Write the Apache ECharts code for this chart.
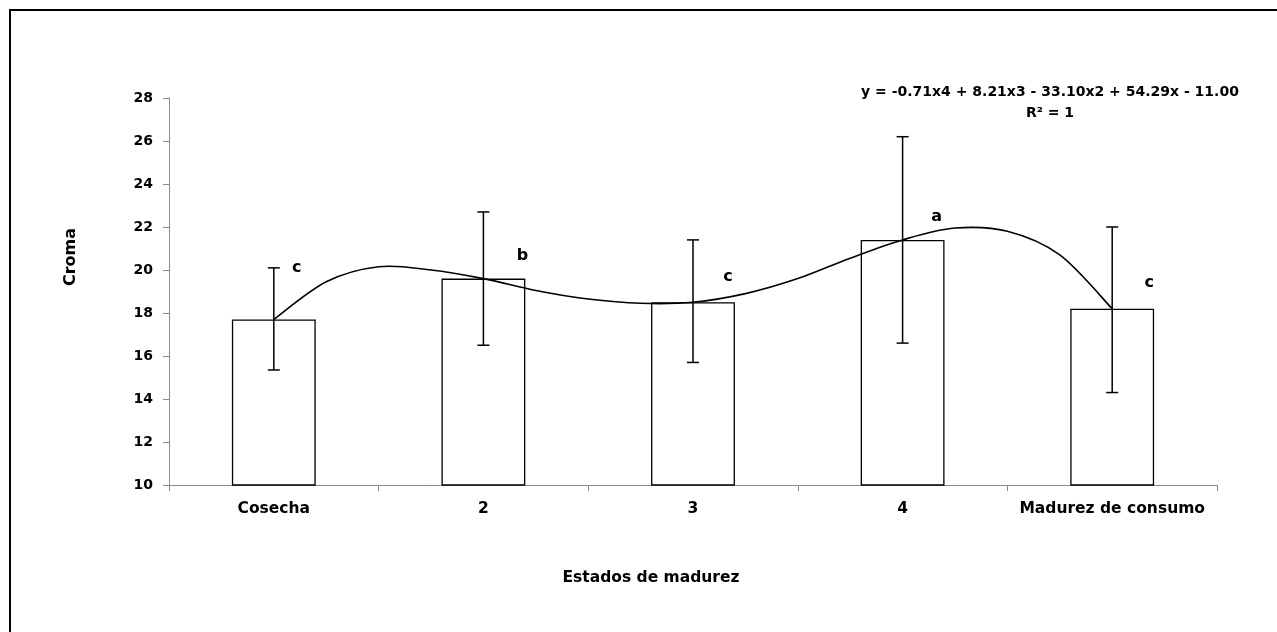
<!DOCTYPE html>
<html>
<head>
<meta charset="utf-8">
<script src="https://cdn.jsdelivr.net/npm/echarts@6/dist/echarts.min.js"></script>
<style>
html,body{margin:0;padding:0;background:#fff;}
#c{width:1277px;height:632px;}
</style>
</head>
<body>
<div id="c"></div>
<script>
// ---- data ----
const categories = ['Cosecha', '2', '3', '4', 'Madurez de consumo'];
const croma = [17.7, 19.6, 18.5, 21.4, 18.2];
const errHigh = [20.1, 22.7, 21.4, 26.2, 22.0];
const errLow = [15.35, 16.5, 15.7, 16.6, 14.3];
const letters = ['c', 'b', 'c', 'a', 'c'];
const letterY = [20.1, 20.65, 19.7, 22.45, 19.4];
// trend line (position in category units, value)
const curveX = [0, 0.25, 0.5, 0.75, 1, 1.25, 1.5, 1.75, 2, 2.25, 2.5, 2.75, 3, 3.25, 3.5, 3.75, 4];
const curveY = [17.7, 19.45, 20.15, 20.0, 19.6, 19.05, 18.65, 18.45, 18.5, 18.9, 19.6, 20.55, 21.4, 21.95, 21.8, 20.7, 18.2];
const yMin = 10, yMax = 28, yStep = 2;
const equationText = 'y = -0.71x4 + 8.21x3 - 33.10x2 + 54.29x - 11.00';
const r2Text = 'R² = 1';
const xTitle = 'Estados de madurez';
const yTitle = 'Croma';

// ---- styles ----
const FONT = 'DejaVu Sans';
const labelShift = [23, 39, 35, 34, 37];

const chart = echarts.init(document.getElementById('c'), null, {renderer: 'canvas'});

// smooth curve through the read points (Catmull-Rom in pixel space)
function renderCurve(params, api) {
  const pts = curveX.map((x, i) => api.coord([x, curveY[i]]));
  let d = 'M' + pts[0][0] + ' ' + pts[0][1];
  for (let i = 0; i < pts.length - 1; i++) {
    const p0 = pts[Math.max(0, i - 1)];
    const p1 = pts[i];
    const p2 = pts[i + 1];
    const p3 = pts[Math.min(pts.length - 1, i + 2)];
    const c1x = p1[0] + (p2[0] - p0[0]) / 6, c1y = p1[1] + (p2[1] - p0[1]) / 6;
    const c2x = p2[0] - (p3[0] - p1[0]) / 6, c2y = p2[1] - (p3[1] - p1[1]) / 6;
    d += ' C' + c1x + ' ' + c1y + ' ' + c2x + ' ' + c2y + ' ' + p2[0] + ' ' + p2[1];
  }
  return {type: 'path', shape: {pathData: d}, style: {fill: 'none', stroke: '#000', lineWidth: 1.6}};
}

const option = {
  backgroundColor: '#ffffff',
  animation: false,
  grid: {left: 169, right: 60, top: 98, bottom: 147, containLabel: false},
  xAxis: [{
    type: 'category',
    data: categories,
    boundaryGap: true,
    axisLine: {show: true, onZero: false, lineStyle: {color: '#8c8c8c', width: 1}},
    axisTick: {show: true, interval: 0, length: 6, lineStyle: {color: '#8c8c8c'}},
    axisLabel: {interval: 0, margin: 16, color: '#000', fontFamily: FONT, fontWeight: 'bold', fontSize: 15.5},
    splitLine: {show: false}
  }, {
    type: 'value',
    min: -0.5,
    max: 4.5,
    show: false,
    axisLine: {onZero: false}
  }],
  yAxis: {
    type: 'value',
    min: yMin,
    max: yMax,
    interval: yStep,
    axisLine: {show: true, onZero: false, lineStyle: {color: '#8c8c8c', width: 1}},
    axisTick: {show: true, length: 6, lineStyle: {color: '#8c8c8c'}},
    axisLabel: {margin: 16, color: '#000', fontFamily: FONT, fontWeight: 'bold', fontSize: 14},
    splitLine: {show: false}
  },
  graphic: [
    {type: 'rect', shape: {x: 10, y: 10, width: 1400, height: 800}, style: {fill: 'none', stroke: '#000', lineWidth: 2}, silent: true},
    {type: 'text', x: 71, y: 257, rotation: Math.PI / 2,
      style: {text: yTitle, fill: '#000', font: 'bold 16px "DejaVu Sans"', textAlign: 'center', textVerticalAlign: 'middle'}},
    {type: 'text', x: 651, y: 578,
      style: {text: xTitle, fill: '#000', font: 'bold 15.5px "DejaVu Sans"', textAlign: 'center', textVerticalAlign: 'middle'}},
    {type: 'text', x: 1050, y: 92,
      style: {text: equationText, fill: '#000', font: 'bold 14px "DejaVu Sans"', textAlign: 'center', textVerticalAlign: 'middle'}},
    {type: 'text', x: 1050, y: 113,
      style: {text: r2Text, fill: '#000', font: 'bold 14px "DejaVu Sans"', textAlign: 'center', textVerticalAlign: 'middle'}}
  ],
  series: [
    {
      type: 'bar',
      data: croma,
      barWidth: '40%',
      itemStyle: {color: '#ffffff', borderColor: '#000', borderWidth: 1.3},
      z: 2
    },
    {
      type: 'custom',
      data: categories.map((c, i) => [i, errLow[i], errHigh[i]]),
      renderItem: function (params, api) {
        const i = api.value(0);
        const lo = api.coord([i, api.value(1)]);
        const hi = api.coord([i, api.value(2)]);
        const w = 6;
        const st = {stroke: '#000', lineWidth: 1.5};
        return {
          type: 'group',
          children: [
            {type: 'line', shape: {x1: hi[0], y1: hi[1], x2: lo[0], y2: lo[1]}, style: st},
            {type: 'line', shape: {x1: hi[0] - w, y1: hi[1], x2: hi[0] + w, y2: hi[1]}, style: st},
            {type: 'line', shape: {x1: lo[0] - w, y1: lo[1], x2: lo[0] + w, y2: lo[1]}, style: st}
          ]
        };
      },
      z: 4
    },
    {
      type: 'custom',
      xAxisIndex: 1,
      data: [[curveX[0], curveY[0]]],
      renderItem: renderCurve,
      silent: true,
      z: 5
    },
    {
      type: 'custom',
      data: letters.map((l, i) => [i, letterY[i]]),
      renderItem: function (params, api) {
        const p = api.coord([api.value(0), api.value(1)]);
        return {
          type: 'text',
          x: p[0] + labelShift[params.dataIndex],
          y: p[1],
          style: {text: letters[params.dataIndex], fill: '#000', font: 'bold 16px "DejaVu Sans"', textAlign: 'center', textVerticalAlign: 'middle'}
        };
      },
      z: 6
    }
  ]
};
chart.setOption(option);
</script>
</body>
</html>
